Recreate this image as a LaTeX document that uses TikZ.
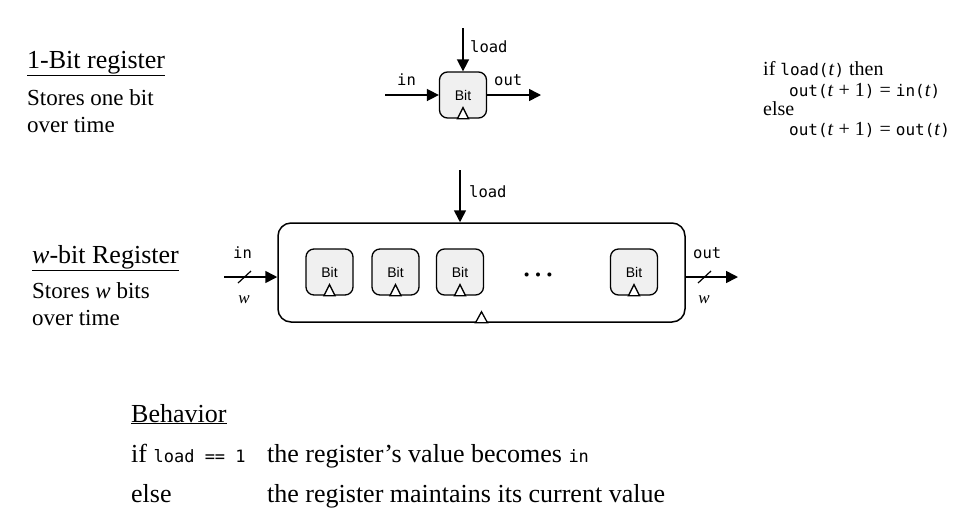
\documentclass[tikz,border=0pt]{standalone}
\usepackage{fontspec}
\setmainfont{Liberation Serif}
\setsansfont{Liberation Sans}
\setmonofont{DejaVu Sans Mono}
\usetikzlibrary{arrows.meta}
\tikzset{
  arr/.style={line width=1.6pt,-{Triangle[length=12pt,width=12pt]}},
  bitbox/.style={draw,line width=1.3pt,rounded corners=8pt,fill=gray!12,minimum width=47pt,minimum height=46pt,inner sep=0pt,font=\sffamily\fontsize{14}{16}\selectfont},
  regbox/.style={draw,line width=1.5pt,rounded corners=13pt,minimum width=407pt,minimum height=99pt,inner sep=0pt},
  clk/.style={draw,line width=1.3pt,fill=white},
  lbl/.style={inner sep=0pt,anchor=base west,font=\ttfamily\fontsize{15.5}{17}\selectfont},
  title/.style={inner sep=0pt,anchor=base west,font=\fontsize{26}{29}\selectfont},
  body/.style={inner sep=0pt,anchor=base west,font=\fontsize{23}{27}\selectfont,align=left},
  frm/.style={inner sep=0pt,anchor=base west,font=\fontsize{20}{22}\selectfont},
  beh/.style={inner sep=0pt,anchor=base west,font=\fontsize{26}{28}\selectfont},
}
\newcommand{\mt}[1]{{\ttfamily\fontsize{16}{18}\selectfont #1}}
\newcommand{\mb}[1]{{\ttfamily\fontsize{17}{19}\selectfont #1}}
\begin{document}
\begin{tikzpicture}[x=1pt,y=-1pt]
\useasboundingbox (0,0) rectangle (971,531);
% left texts
\node[title] (t1) at (27,68) {\underline{1-Bit register}};
\node[body] (d1a) at (27,105) {Stores one bit};
\node[body] (d1b) at (27,132) {over time};
\node[title] (t2) at (32,263) {\underline{\textit{w}-bit Register}};
\node[body] (d2a) at (32,298) {Stores \textit{w} bits};
\node[body] (d2b) at (32,325) {over time};
% 1-bit register
\node[bitbox] (b0) at (463,95) {Bit};
\draw[clk] ([xshift=-5.5pt]b0.south) -- ++(5.5,-11) -- ++(5.5,11) -- cycle;
\coordinate (l0) at (463,28);
\coordinate (i0) at (385,95);
\coordinate (o0) at (541,95);
\draw[arr] (l0) -- (b0.north);
\draw[arr] (i0) -- (b0.west);
\draw[arr] (b0.east) -- (o0);
\node[lbl] (ll0) at (470,52) {load};
\node[lbl] (li0) at (397,85) {in};
\node[lbl] (lo0) at (494,85) {out};
% formula
\node[frm] (f1) at (763,75) {if \mt{load(}\textit{t}\mt{)} then};
\node[frm] (f2) at (789,96) {\mt{out(}\textit{t} + 1\mt{)} = \mt{in(}\textit{t}\mt{)}};
\node[frm] (f3) at (763,115) {else};
\node[frm] (f4) at (789,135) {\mt{out(}\textit{t} + 1\mt{)} = \mt{out(}\textit{t}\mt{)}};
% w-bit register
\node[regbox] (reg) at (481.5,272.5) {};
\draw[clk] ([xshift=-6pt]reg.south) -- ++(6,-11) -- ++(6,11) -- cycle;
\node[bitbox] (b1) at (329.5,272) {Bit};
\node[bitbox] (b2) at (395.5,272) {Bit};
\node[bitbox] (b3) at (460,272) {Bit};
\node[bitbox] (b4) at (634,272) {Bit};
\foreach \b in {b1,b2,b3,b4}{
  \draw[clk] ([xshift=-5.5pt]\b.south) -- ++(5.5,-11) -- ++(5.5,11) -- cycle;
}
\node[inner sep=0pt,anchor=base,font=\fontsize{34}{36}\selectfont] (dots) at (538,276) {…};
\coordinate (l1) at (460,170);
\coordinate (i1) at (224,277);
\coordinate (o1) at (738,277);
\draw[arr] (l1) -- (l1 |- reg.north);
\draw[arr] (i1) -- (i1 -| reg.west);
\draw[arr] (o1 -| reg.east) -- (o1);
\draw[line width=1.2pt] (238,283) -- (251,271);
\draw[line width=1.2pt] (698,283) -- (711,271);
\node[lbl] (ll1) at (469,197) {load};
\node[lbl] (li1) at (233,258) {in};
\node[lbl] (lo1) at (693,258) {out};
\node[inner sep=0pt,anchor=base,font=\fontsize{17}{20}\selectfont] (w1) at (244,303) {\textit{w}};
\node[inner sep=0pt,anchor=base,font=\fontsize{17}{20}\selectfont] (w2) at (704,303) {\textit{w}};
% behavior
\node[beh] (bh) at (131,422) {\underline{Behavior}};
\node[beh] (bi) at (131,462) {if \mb{load == 1}};
\node[beh] (be) at (131,502) {else};
\node[beh] (bt1) at (267,462) {the register’s value becomes \mb{in}};
\node[beh] (bt2) at (267,502) {the register maintains its current value};
\end{tikzpicture}
\end{document}
